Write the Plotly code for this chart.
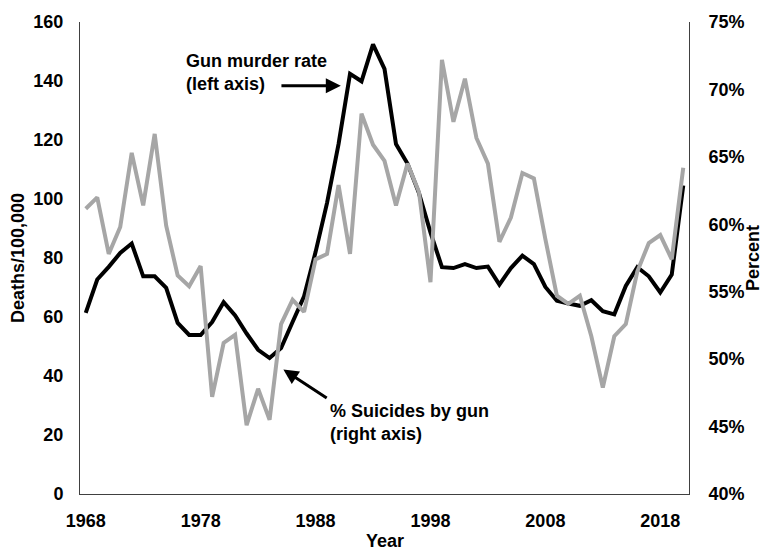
import plotly.graph_objects as go

years = list(range(1968, 2021))

gun_murder_rate = [
    61.4, 72.7, 77.0, 81.7, 84.9, 73.8, 73.8, 69.9, 58.0, 53.9,
    53.9, 58.3, 65.0, 60.5, 54.4, 48.9, 46.1, 49.5, 58.3, 67.0,
    82.0, 98.7, 118.6, 142.4, 139.9, 152.4, 144.1, 118.6, 112.0, 102.0,
    88.7, 76.9, 76.6, 77.9, 76.6, 77.1, 71.0, 76.6, 80.8, 77.9,
    70.2, 65.5, 64.6, 63.8, 65.7, 62.0, 60.9, 70.5, 76.9, 73.8,
    68.3, 74.4, 104.6,
]

pct_suicides_gun = [
    61.15, 62.0, 57.8, 59.8, 65.3, 61.4, 66.7, 59.9, 56.2, 55.4,
    56.9, 47.2, 51.2, 51.8, 45.1, 47.8, 45.5, 52.6, 54.4, 53.5,
    57.4, 57.8, 62.9, 57.8, 68.2, 65.9, 64.7, 61.4, 64.5, 62.4,
    55.7, 72.2, 67.6, 70.8, 66.4, 64.5, 58.7, 60.5, 63.8, 63.4,
    58.9, 54.7, 54.1, 54.7, 51.7, 47.9, 51.7, 52.6, 56.5, 58.6,
    59.2, 57.4, 64.2,
]

x_tick_years = [1968, 1978, 1988, 1998, 2008, 2018]
left_ticks = [0, 20, 40, 60, 80, 100, 120, 140, 160]
right_ticks = [40, 45, 50, 55, 60, 65, 70, 75]
right_tick_labels = [f"{v}%" for v in right_ticks]

FONT = "Liberation Sans, Arial, sans-serif"
bold18 = dict(family=FONT, size=18, color="black", weight="bold")

fig = go.Figure()
fig.add_trace(go.Scatter(
    x=years, y=gun_murder_rate, mode="lines",
    line=dict(color="black", width=4), yaxis="y", showlegend=False,
))
fig.add_trace(go.Scatter(
    x=years, y=pct_suicides_gun, mode="lines",
    line=dict(color="#A6A6A6", width=4), yaxis="y2", showlegend=False,
))

axis_line = "#404040"
fig.update_layout(
    width=762, height=554,
    margin=dict(l=80, r=73, t=12, b=60),
    paper_bgcolor="white", plot_bgcolor="white",
    showlegend=False,
    xaxis=dict(
        range=[1967.5, 2020.5], tickvals=x_tick_years,
        ticktext=[str(v) for v in x_tick_years],
        showgrid=False, zeroline=False, showline=True,
        linecolor=axis_line, linewidth=1, ticks="",
        tickfont=bold18, ticklabelstandoff=10,
    ),
    yaxis=dict(
        range=[0, 160], tickvals=left_ticks,
        showgrid=False, zeroline=False, showline=True,
        linecolor=axis_line, linewidth=1, ticks="",
        tickfont=bold18, ticklabelstandoff=12,
    ),
    yaxis2=dict(
        range=[40, 75], tickvals=right_ticks, ticktext=right_tick_labels,
        overlaying="y", side="right",
        showgrid=False, zeroline=False, showline=True,
        linecolor=axis_line, linewidth=1, ticks="",
        tickfont=bold18, ticklabelstandoff=15,
    ),
)

annotations = [
    # axis titles
    dict(text="Deaths/100,000", x=0, y=0.5, xref="paper", yref="paper",
         xanchor="center", xshift=18 - 80,
         showarrow=False, textangle=-90, font=bold18),
    dict(text="Percent", x=1, y=0.5, xref="paper", yref="paper",
         xanchor="center", xshift=753 - 689,
         showarrow=False, textangle=-90, font=bold18),
    dict(text="Year", x=(385 - 80) / 609, y=0, xref="paper", yref="paper",
         yanchor="middle", yshift=-(541 - 494),
         showarrow=False, font=bold18),
    # labels
    dict(text="Gun murder rate<br>(left axis)", x=(184 - 80) / 609, y=(494 - 64) / 482,
         xref="paper", yref="paper", xanchor="left", yanchor="middle",
         align="left", showarrow=False, font=bold18),
    dict(text="% Suicides by gun<br>(right axis)", x=(328 - 80) / 609, y=(494 - 421) / 482,
         xref="paper", yref="paper", xanchor="left", yanchor="middle",
         align="left", showarrow=False, font=bold18),
    # arrows
    dict(text="", x=1990.2, y=138.4, xref="x", yref="y",
         ax=1984.9, ay=138.4, axref="x", ayref="y",
         showarrow=True, arrowhead=2, arrowsize=1, arrowwidth=3, arrowcolor="black"),
    dict(text="", x=1985.2, y=42.2, xref="x", yref="y",
         ax=1989.1, ay=32.2, axref="x", ayref="y",
         showarrow=True, arrowhead=2, arrowsize=1, arrowwidth=3, arrowcolor="black"),
]
fig.update_layout(annotations=annotations)

fig.write_html(
    "out.html",
    config={"displayModeBar": False},
    post_script="document.body.style.margin='0';document.body.style.padding='0';",
)
